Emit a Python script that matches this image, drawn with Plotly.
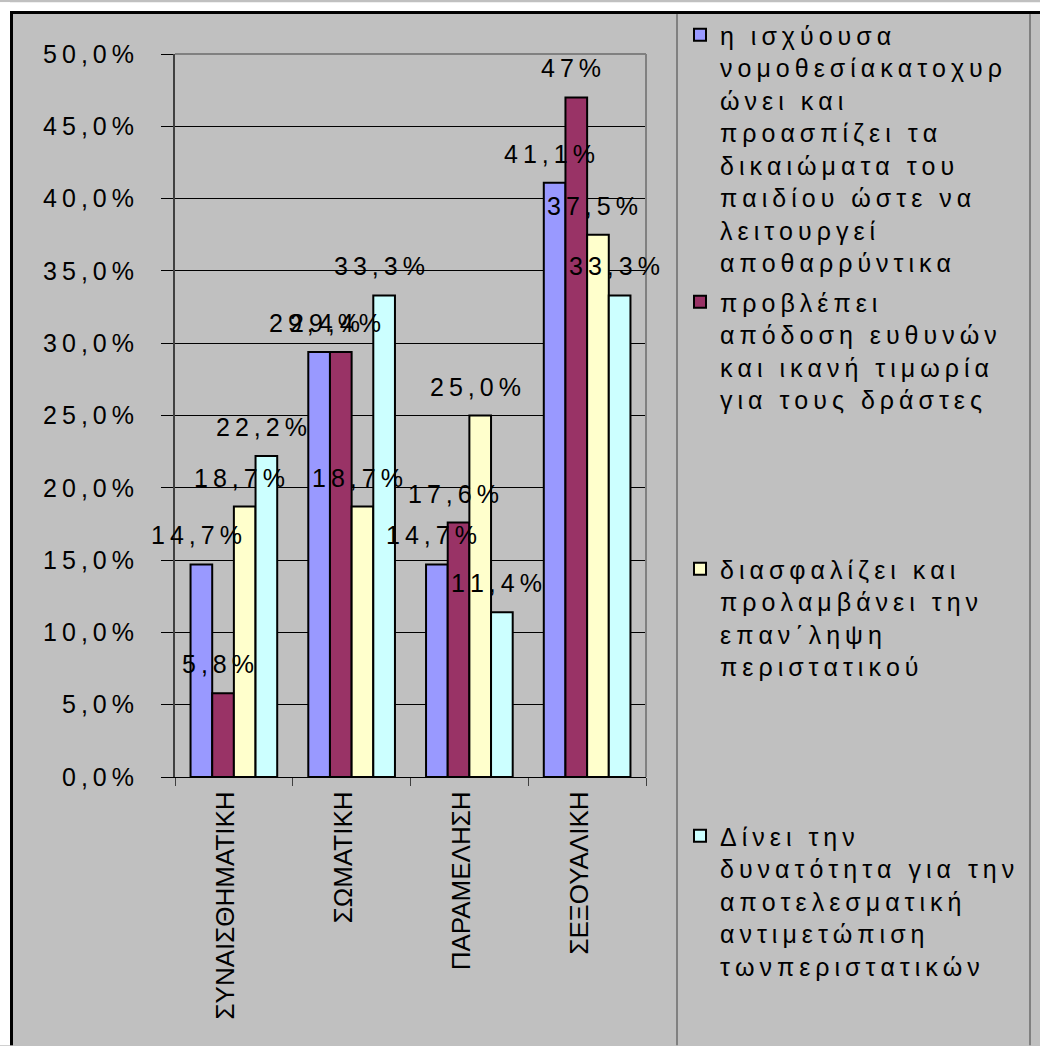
import plotly.graph_objects as go

# ---- data -------------------------------------------------------------
categories = ["ΣΥΝΑΙΣΘΗΜΑΤΙΚΗ", "ΣΩΜΑΤΙΚΗ", "ΠΑΡΑΜΕΛΗΣΗ", "ΣΕΞΟΥΑΛΙΚΗ"]

series_lines = [
    ["η ισχύουσα", "νομοθεσίακατοχυρ", "ώνει και", "προασπίζει τα",
     "δικαιώματα του", "παιδίου ώστε να", "λειτουργεί", "αποθαρρύντικα"],
    ["προβλέπει", "απόδοση ευθυνών", "και ικανή τιμωρία", "για τους δράστες"],
    ["διασφαλίζει και", "προλαμβάνει την", "επαν΄ληψη", "περιστατικού"],
    ["Δίνει την", "δυνατότητα για την", "αποτελεσματική", "αντιμετώπιση",
     "τωνπεριστατικών"],
]

values_1 = [14.7, 29.4, 14.7, 41.1]
values_2 = [5.8, 29.4, 17.6, 47.0]
values_3 = [18.7, 18.7, 25.0, 37.5]
values_4 = [22.2, 33.3, 11.4, 33.3]

# decimals shown in each data label
decimals_1 = [1, 1, 1, 1]
decimals_2 = [1, 1, 1, 0]
decimals_3 = [1, 1, 1, 1]
decimals_4 = [1, 1, 1, 1]

y_ticks = [0, 5, 10, 15, 20, 25, 30, 35, 40, 45, 50]

colors = ["#9999FF", "#993366", "#FFFFCC", "#CCFFFF"]

# ---- geometry / style -------------------------------------------------
W, H = 1040, 1046
ML, MR, MT, MB = 175, 394, 52, 269
PLOT_W = W - ML - MR
PLOT_H = H - MT - MB
BARGAP = 0.264
FONT = "Arial, Liberation Sans, sans-serif"
FS = 25
THIN = "\u2009"


def spaced(s, sp=THIN):
    return sp.join(s)


def pct(v, d):
    return f"{v:.{d}f}".replace(".", ",") + "%"


def xp(px):
    return (px - ML) / PLOT_W


def yp(py):
    return (H - MB - py) / PLOT_H


all_values = [values_1, values_2, values_3, values_4]
all_decimals = [decimals_1, decimals_2, decimals_3, decimals_4]

fig = go.Figure()

# every legend entry except the last is padded to the same number of lines,
# so the entries are spread evenly down the legend column
PAD_LINES = 8
n_series = len(all_values)
for i, (vals, lines) in enumerate(zip(all_values, series_lines)):
    legend_text = "<br>".join(spaced(t) for t in lines)
    if i < n_series - 1:
        legend_text += ("<br>" + THIN) * (PAD_LINES - len(lines))
    fig.add_trace(go.Bar(
        x=categories, y=vals, name=legend_text,
        legendgroup=f"g{i}",
        marker=dict(color=colors[i], line=dict(color="black", width=2)),
    ))

# data labels above each bar
bar_w = PLOT_W / len(categories) * (1 - BARGAP) / n_series
for i, (vals, decs) in enumerate(zip(all_values, all_decimals)):
    for cat, v, d in zip(categories, vals, decs):
        fig.add_annotation(
            x=cat, y=v, xref="x", yref="y",
            text=spaced(pct(v, d)), showarrow=False,
            yanchor="bottom", xanchor="center",
            xshift=(i - (n_series - 1) / 2) * bar_w - 5, yshift=13,
            font=dict(family=FONT, size=FS, color="black"),
        )

shapes = [
    # white margin strips and the black chart frame
    dict(type="rect", xref="paper", yref="paper", x0=xp(0), x1=xp(10), y0=yp(H), y1=yp(0),
         fillcolor="white", line=dict(width=0), layer="above"),
    dict(type="rect", xref="paper", yref="paper", x0=xp(0), x1=xp(W), y0=yp(9), y1=yp(0),
         fillcolor="white", line=dict(width=0), layer="above"),
    dict(type="line", xref="paper", yref="paper", x0=xp(11.5), x1=xp(11.5), y0=yp(H), y1=yp(9),
         line=dict(color="black", width=3), layer="above"),
    dict(type="line", xref="paper", yref="paper", x0=xp(10), x1=xp(W), y0=yp(10.5), y1=yp(10.5),
         line=dict(color="black", width=3), layer="above"),
    # legend box sides
    dict(type="line", xref="paper", yref="paper", x0=xp(677), x1=xp(677), y0=yp(H), y1=yp(12),
         line=dict(color="#404040", width=1), layer="above"),
    dict(type="line", xref="paper", yref="paper", x0=xp(1030), x1=xp(1030), y0=yp(H), y1=yp(12),
         line=dict(color="#404040", width=1), layer="above"),
    # plot-area border (top and right)
    dict(type="line", xref="paper", yref="paper", x0=0, x1=1, y0=1, y1=1,
         line=dict(color="#808080", width=2), layer="above"),
    dict(type="line", xref="paper", yref="paper", x0=1, x1=1, y0=0, y1=1,
         line=dict(color="#808080", width=2), layer="above"),
]

fig.update_layout(
    width=W, height=H, autosize=False,
    margin=dict(l=ML, r=MR, t=MT, b=MB, pad=0),
    paper_bgcolor="#C0C0C0", plot_bgcolor="#C0C0C0",
    barmode="group", bargap=BARGAP, bargroupgap=0,
    font=dict(family=FONT, size=FS, color="black"),
    shapes=shapes,
    showlegend=True,
    legend=dict(
        x=xp(680), y=yp(10), xanchor="left", yanchor="top",
        bgcolor="rgba(0,0,0,0)", borderwidth=0,
        font=dict(family=FONT, size=25, color="black"),
        valign="top", traceorder="grouped", tracegroupgap=4,
        maxheight=1040,
        itemclick=False, itemdoubleclick=False,
    ),
    xaxis=dict(
        type="category", range=[-0.5, len(categories) - 0.5], autorange=False,
        tickangle=-90,
        ticks="outside", tickson="boundaries", ticklen=8, tickcolor="#404040", tickwidth=1,
        showline=True, linecolor="black", linewidth=1,
        showgrid=False, ticklabelstandoff=3, ticklabelshift=-8,
        tickfont=dict(family=FONT, size=26, color="black"),
    ),
    yaxis=dict(
        range=[0, 50], autorange=False, tickvals=y_ticks,
        ticktext=[spaced(pct(v, 1)) for v in y_ticks],
        ticks="outside", ticklen=12, tickcolor="black", tickwidth=1,
        showline=True, linecolor="#404040", linewidth=2,
        showgrid=True, gridcolor="black", gridwidth=1,
        zeroline=False, ticklabelstandoff=22,
        tickfont=dict(family=FONT, size=FS, color="black"),
    ),
)

fig.write_html("out.html")
